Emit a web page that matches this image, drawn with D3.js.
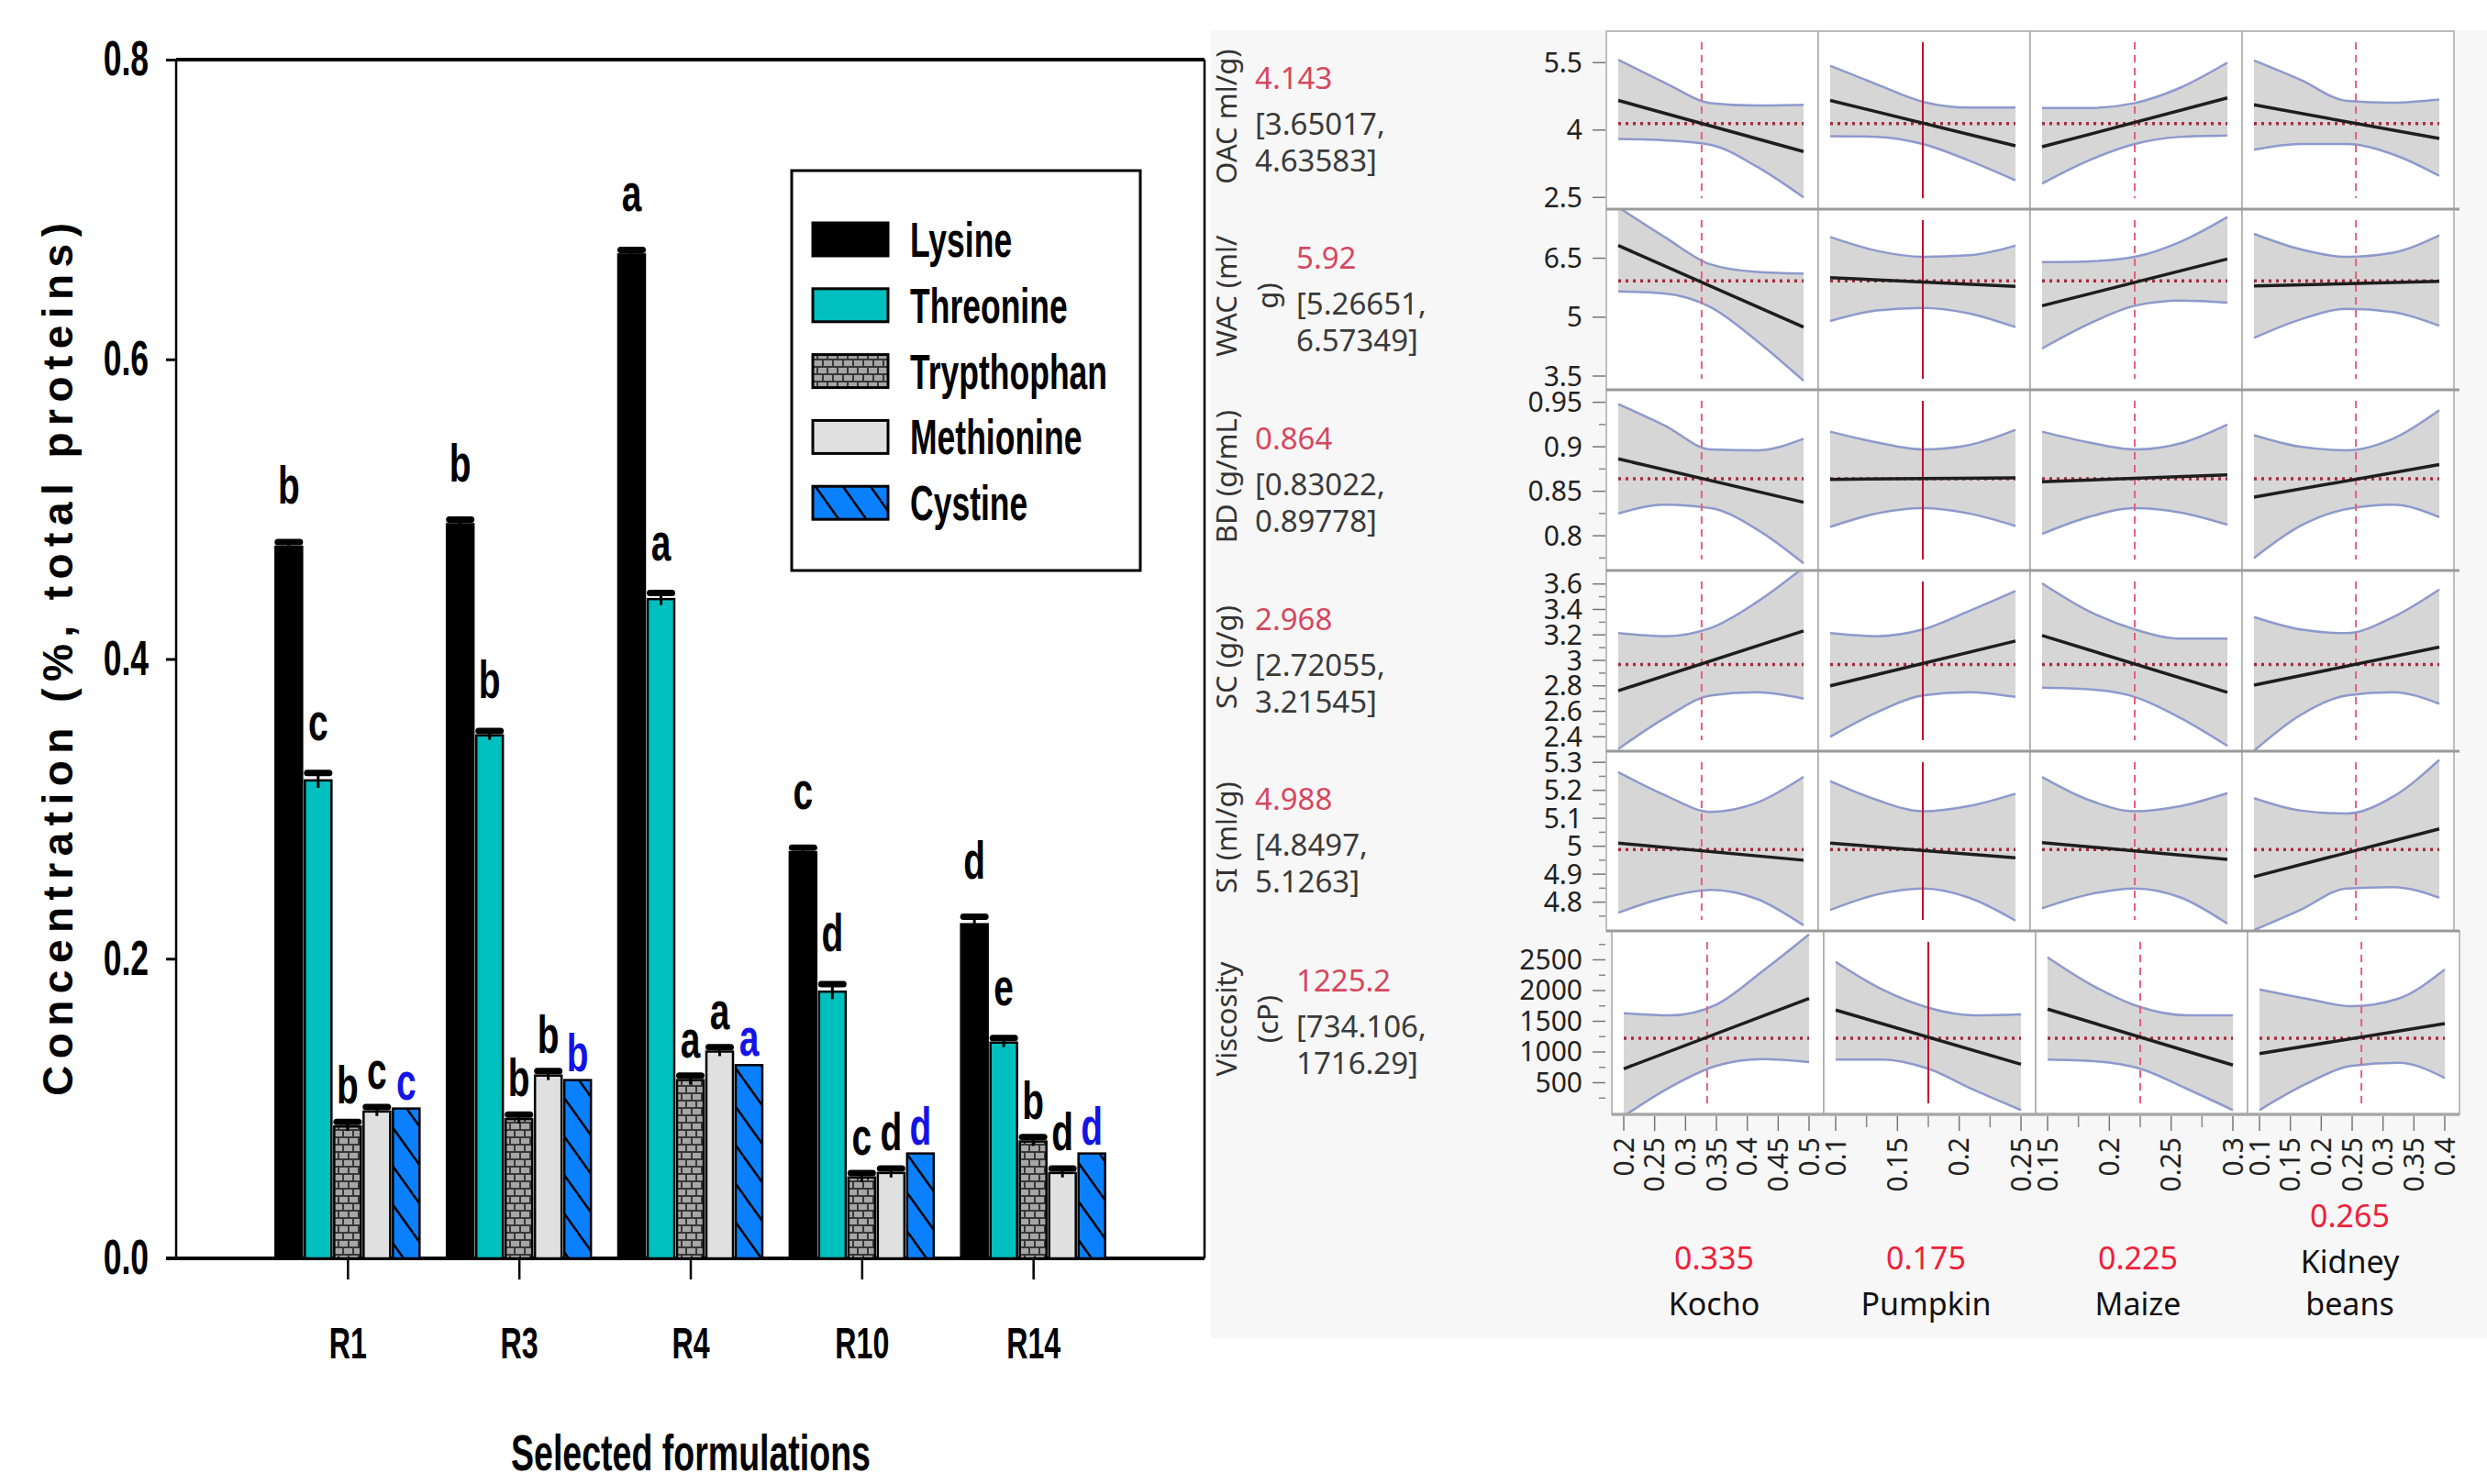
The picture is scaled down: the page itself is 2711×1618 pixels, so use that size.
<!DOCTYPE html>
<html>
<head>
<meta charset="utf-8">
<script src="https://cdn.jsdelivr.net/npm/d3@7"></script>
<style>
  body { margin: 0; background: #fff; }
</style>
</head>
<body>
<svg id="chart" width="2711" height="1618"></svg>
<script>
// ---------- left chart: amino acids of selected formulations ----------
var formulations = ["R1", "R3", "R4", "R10", "R14"];
var aminoAcids = ["Lysine", "Threonine", "Trypthophan", "Methionine", "Cystine"];
var lysine      = [0.475, 0.490, 0.670, 0.271, 0.223];
var threonine   = [0.319, 0.349, 0.440, 0.178, 0.144];
var trypthophan = [0.088, 0.093, 0.119, 0.054, 0.078];
var methionine  = [0.098, 0.122, 0.138, 0.057, 0.057];
var cystine     = [0.100, 0.119, 0.129, 0.070, 0.070];
var lysineErr      = [0.003, 0.003, 0.003, 0.003, 0.005];
var threonineErr   = [0.005, 0.003, 0.004, 0.005, 0.003];
var trypthophanErr = [0.003, 0.003, 0.003, 0.003, 0.003];
var methionineErr  = [0.003, 0.003, 0.003, 0.003, 0.003];
var lysineLetters      = ["b", "b", "a", "c", "d"];
var threonineLetters   = ["c", "b", "a", "d", "e"];
var trypthophanLetters = ["b", "b", "a", "c", "b"];
var methionineLetters  = ["c", "b", "a", "d", "d"];
var cystineLetters     = ["c", "b", "a", "d", "d"];
var yTicks = [0, 0.2, 0.4, 0.6, 0.8];

// ---------- right panel: prediction profiler ----------
var factors = ["Kocho", "Pumpkin", "Maize", "Kidney beans"];
var factorLo = [0.2, 0.1, 0.15, 0.1];
var factorHi = [0.5, 0.25, 0.3, 0.4];
var factorNow = [0.335, 0.175, 0.225, 0.265];
var factorMajor = [[0.2, 0.25, 0.3, 0.35, 0.4, 0.45, 0.5], [0.1, 0.15, 0.2, 0.25],
                   [0.15, 0.2, 0.25, 0.3], [0.1, 0.15, 0.2, 0.25, 0.3, 0.35, 0.4]];
var factorMinor = [[], [0.125, 0.175, 0.225], [0.175, 0.225, 0.275], []];

var responses = [["OAC ml/g)"], ["WAC (ml/", "g)"], ["BD (g/mL)"], ["SC (g/g)"], ["SI (ml/g)"], ["Viscosity", "(cP)"]];
var predicted = [4.143, 5.92, 0.864, 2.968, 4.988, 1225.2];
var ciLow  = ["3.65017", "5.26651", "0.83022", "2.72055", "4.8497", "734.106"];
var ciHigh = ["4.63583", "6.57349", "0.89778", "3.21545", "5.1263", "1716.29"];
var respLo = [2.24, 3.15, 0.761, 2.287, 4.697, -15];
var respHi = [6.2, 7.75, 0.964, 3.706, 5.34, 2970];
var respMajor = [[2.5, 4, 5.5], [3.5, 5, 6.5], [0.8, 0.85, 0.9, 0.95], [2.4, 2.6, 2.8, 3, 3.2, 3.4, 3.6],
                 [4.8, 4.9, 5, 5.1, 5.2, 5.3], [500, 1000, 1500, 2000, 2500]];
var respMinor = [[], [], [0.775, 0.825, 0.875, 0.925], [2.5, 2.7, 2.9, 3.1, 3.3, 3.5],
                 [4.75, 4.85, 4.95, 5.05, 5.15, 5.25], [250, 750, 1250, 1750, 2250, 2750]];

// profile trace at the low and high end of each factor [row][factor]
var traceEnds = [
  [[4.66, 3.52], [4.66, 3.647], [3.627, 4.714], [4.56, 3.81]],
  [[6.823, 4.745], [6.005, 5.78], [5.29, 6.48], [5.795, 5.91]],
  [[0.8864, 0.8376], [0.8634, 0.865], [0.8606, 0.8685], [0.8434, 0.880]],
  [[2.7615, 3.2315], [2.80, 3.152], [3.195, 2.749], [2.805, 3.104]],
  [[5.011, 4.95], [5.011, 4.959], [5.013, 4.953], [4.891, 5.062]],
  [[727, 1870], [1682, 801], [1697, 787], [975, 1463]]
];
// confidence band read at 0, 1/4, 1/2, 3/4 and the end of each factor range
var bandAt = [0, 0.25, 0.5, 0.75, 1];
var bandUpper = [
  [[5.565, 5.055, 4.60, 4.545, 4.56], [5.43, 5.02, 4.63, 4.50, 4.50], [4.49, 4.49, 4.60, 4.95, 5.50], [5.55, 5.12, 4.65, 4.61, 4.68]],
  [[7.80, 7.04, 6.34, 6.15, 6.11], [7.04, 6.69, 6.535, 6.575, 6.82], [6.40, 6.42, 6.535, 6.925, 7.55], [7.12, 6.73, 6.535, 6.64, 7.08]],
  [[0.948, 0.924, 0.897, 0.896, 0.909], [0.917, 0.905, 0.897, 0.902, 0.919], [0.917, 0.905, 0.897, 0.904, 0.925], [0.913, 0.900, 0.896, 0.909, 0.941]],
  [[3.214, 3.19, 3.255, 3.46, 3.73], [3.214, 3.19, 3.243, 3.388, 3.545], [3.605, 3.388, 3.243, 3.171, 3.171], [3.34, 3.243, 3.214, 3.34, 3.557]],
  [[5.265, 5.183, 5.123, 5.156, 5.248], [5.233, 5.166, 5.125, 5.144, 5.188], [5.248, 5.166, 5.125, 5.144, 5.19], [5.172, 5.128, 5.117, 5.177, 5.309]],
  [[1631, 1597, 1772, 2318, 2915], [2467, 2019, 1721, 1597, 1612], [2542, 2070, 1731, 1597, 1597], [2019, 1870, 1746, 1870, 2343]]
];
var bandLower = [
  [[3.80, 3.77, 3.67, 3.18, 2.50], [3.865, 3.85, 3.69, 3.32, 2.88], [2.81, 3.32, 3.69, 3.85, 3.88], [3.56, 3.69, 3.69, 3.46, 2.98]],
  [[5.655, 5.60, 5.25, 4.39, 3.38], [4.90, 5.17, 5.235, 5.095, 4.745], [4.20, 4.82, 5.29, 5.42, 5.37], [4.47, 4.94, 5.21, 5.13, 4.78]],
  [[0.825, 0.835, 0.831, 0.807, 0.769], [0.810, 0.825, 0.831, 0.825, 0.811], [0.802, 0.821, 0.831, 0.826, 0.8125], [0.775, 0.811, 0.830, 0.835, 0.821]],
  [[2.303, 2.545, 2.725, 2.75, 2.70], [2.40, 2.59, 2.725, 2.75, 2.713], [2.785, 2.773, 2.713, 2.545, 2.328], [2.29, 2.57, 2.725, 2.75, 2.66]],
  [[4.762, 4.816, 4.844, 4.811, 4.717], [4.772, 4.827, 4.849, 4.816, 4.734], [4.778, 4.827, 4.849, 4.816, 4.723], [4.70, 4.772, 4.849, 4.854, 4.816]],
  [[-45, 428, 776, 885, 836], [876, 876, 727, 378, 55], [876, 851, 727, 403, 55], [55, 478, 776, 825, 578]]
];

var svg = d3.select("#chart");
svg.append("rect").attr("width", 2711).attr("height", 1618).attr("fill", "#fff");
var defs = svg.append("defs");

// brick fill for trypthophan
var brick = defs.append("pattern").attr("id", "brick").attr("patternUnits", "userSpaceOnUse")
  .attr("width", 22).attr("height", 16);
brick.append("rect").attr("width", 22).attr("height", 16).attr("fill", "#383838");
[[1, 1], [12, 1], [-4, 9], [7, 9], [18, 9]].forEach(function (p) {
  brick.append("rect").attr("x", p[0]).attr("y", p[1]).attr("width", 9).attr("height", 6).attr("fill", "#a6a6a6");
});
// hatched fill for cystine
var hatch = defs.append("pattern").attr("id", "hatch").attr("patternUnits", "userSpaceOnUse")
  .attr("width", 30).attr("height", 42);
hatch.append("rect").attr("width", 30).attr("height", 42).attr("fill", "#0a80ff");
hatch.append("path").attr("d", "M-30,0L0,42M0,0L30,42M30,0L60,42")
  .attr("stroke", "#000").attr("stroke-width", 2.5);

var fills = ["#000", "#00bfbf", "url(#brick)", "#e0e0e0", "url(#hatch)"];
var K = 0.67;   // the figure's bold text is horizontally squeezed
var boldFont = "'Liberation Sans', Arial, sans-serif";

function squeeze(sel, k) {
  sel.each(function () {
    var t = d3.select(this), x = +t.attr("x") || 0;
    t.attr("x", x / k).attr("transform", "scale(" + k + ",1)");
  });
}

var xL = d3.scaleLinear().domain([0, formulations.length + 1]).range([192, 1313]);
var yL = d3.scaleLinear().domain([0, 0.8]).range([1372, 65]);

var left = svg.append("g");

// axes
left.append("g").attr("transform", "translate(192,0)")
  .call(d3.axisLeft(yL).tickValues(yTicks).tickFormat(d3.format(".1f")).tickSize(11).tickPadding(19))
  .call(function (g) { g.select(".domain").remove(); })
  .call(function (g) { g.selectAll("line").attr("stroke", "#000").attr("stroke-width", 3); })
  .call(function (g) {
    g.selectAll("text").attr("font-family", boldFont).attr("font-weight", "bold")
      .attr("font-size", 53).attr("fill", "#000").call(squeeze, K);
  });

left.append("g").attr("transform", "translate(0,1372)")
  .call(d3.axisBottom(xL).tickValues(d3.range(1, formulations.length + 1))
    .tickFormat(function (i) { return formulations[i - 1]; }).tickSize(23).tickPadding(52))
  .call(function (g) { g.select(".domain").remove(); })
  .call(function (g) { g.selectAll("line").attr("stroke", "#000").attr("stroke-width", 2.5); })
  .call(function (g) {
    g.selectAll("text").attr("font-family", boldFont).attr("font-weight", "bold")
      .attr("font-size", 48).attr("fill", "#000").call(squeeze, K);
  });

// frame
left.append("line").attr("x1", 192).attr("x2", 1313).attr("y1", 65).attr("y2", 65).attr("stroke", "#000").attr("stroke-width", 4);
left.append("line").attr("x1", 192).attr("x2", 192).attr("y1", 65).attr("y2", 1372).attr("stroke", "#000").attr("stroke-width", 2.5);
left.append("line").attr("x1", 1313).attr("x2", 1313).attr("y1", 65).attr("y2", 1372).attr("stroke", "#000").attr("stroke-width", 2.5);
left.append("line").attr("x1", 181).attr("x2", 1313).attr("y1", 1372).attr("y2", 1372).attr("stroke", "#000").attr("stroke-width", 4);

// bars
var seriesValues = [lysine, threonine, trypthophan, methionine, cystine];
var seriesErr = [lysineErr, threonineErr, trypthophanErr, methionineErr, null];
var seriesLetters = [lysineLetters, threonineLetters, trypthophanLetters, methionineLetters, cystineLetters];
var letterGap = [42, 36, 20, 20, 10];
var barW = 29, pitch = 32;

var barData = [];
formulations.forEach(function (f, i) {
  aminoAcids.forEach(function (a, s) {
    barData.push({ i: i, s: s, v: seriesValues[s][i], e: seriesErr[s] ? seriesErr[s][i] : 0, letter: seriesLetters[s][i] });
  });
});
function barX(d) { return xL(d.i + 1) + (d.s - 2) * pitch; }

left.selectAll("rect.bar").data(barData).enter().append("rect")
  .attr("class", "bar")
  .attr("x", function (d) { return barX(d) - barW / 2; })
  .attr("y", function (d) { return yL(d.v); })
  .attr("width", barW)
  .attr("height", function (d) { return yL(0) - yL(d.v); })
  .attr("fill", function (d) { return fills[d.s]; })
  .attr("stroke", "#000").attr("stroke-width", 2.5);

var errData = barData.filter(function (d) { return d.e > 0; });
left.selectAll("line.stem").data(errData).enter().append("line")
  .attr("x1", barX).attr("x2", barX)
  .attr("y1", function (d) { return yL(d.v - d.e); })
  .attr("y2", function (d) { return yL(d.v + d.e); })
  .attr("stroke", "#000").attr("stroke-width", 3);
left.selectAll("line.cap").data(errData).enter().append("line")
  .attr("x1", function (d) { return barX(d) - 12; })
  .attr("x2", function (d) { return barX(d) + 12; })
  .attr("y1", function (d) { return yL(d.v + d.e); })
  .attr("y2", function (d) { return yL(d.v + d.e); })
  .attr("stroke", "#000").attr("stroke-width", 7).attr("stroke-linecap", "round");

left.selectAll("text.letter").data(barData).enter().append("text")
  .attr("transform", function (d) {
    return "translate(" + barX(d) + "," + (yL(d.v + d.e) - letterGap[d.s]) + ") scale(" + K + ",1)";
  })
  .attr("text-anchor", "middle")
  .attr("font-family", boldFont).attr("font-weight", "bold").attr("font-size", 58)
  .attr("fill", function (d) { return d.s === 4 ? "#1414e6" : "#000"; })
  .text(function (d) { return d.letter; });

// legend
var legend = left.append("g");
legend.append("rect").attr("x", 863).attr("y", 186).attr("width", 380).attr("height", 436)
  .attr("fill", "#fff").attr("stroke", "#000").attr("stroke-width", 3);
aminoAcids.forEach(function (a, s) {
  var cy = 261 + s * 71.8;
  legend.append("rect").attr("x", 886).attr("y", cy - 18).attr("width", 82).attr("height", 36)
    .attr("fill", fills[s]).attr("stroke", "#000").attr("stroke-width", 3);
  legend.append("text").attr("transform", "translate(992," + (cy + 19) + ") scale(" + K + ",1)")
    .attr("font-family", boldFont).attr("font-weight", "bold").attr("font-size", 53).text(a);
});

// titles
left.append("text").attr("transform", "translate(63,719) rotate(-90)")
  .attr("text-anchor", "middle").attr("dominant-baseline", "central")
  .attr("font-family", boldFont).attr("font-weight", "bold").attr("font-size", 46)
  .attr("textLength", 952).attr("lengthAdjust", "spacing")
  .text("Concentration (%, total proteins)");
left.append("text").attr("transform", "translate(753,1603) scale(" + K + ",1)")
  .attr("text-anchor", "middle")
  .attr("font-family", boldFont).attr("font-weight", "bold").attr("font-size", 56)
  .text("Selected formulations");

// ---------- profiler ----------
var prof = svg.append("g").attr("font-family", "'Noto Sans', 'Open Sans', sans-serif");
prof.append("rect").attr("x", 1320).attr("y", 33).attr("width", 1391).attr("height", 1426).attr("fill", "#f7f7f7");

var rowEdges = [34, 228, 425, 622, 819, 1015, 1215];
var gridX0 = 1751, colW = 231;
function cellLeft(r, j) { return gridX0 + j * colW + (r === responses.length - 1 ? 6 : 0); }
function xScale(r, j) {
  var L = cellLeft(r, j);
  return d3.scaleLinear().domain([factorLo[j], factorHi[j]]).range([L + 13, L + colW - 16]);
}
function yScale(r) {
  return d3.scaleLinear().domain([respLo[r], respHi[r]]).range([rowEdges[r + 1], rowEdges[r]]);
}

responses.forEach(function (resp, r) {
  var y = yScale(r), top = rowEdges[r], bot = rowEdges[r + 1];
  factors.forEach(function (f, j) {
    var x = xScale(r, j), L = cellLeft(r, j);
    var id = "clip" + r + "_" + j;
    defs.append("clipPath").attr("id", id).append("rect")
      .attr("x", L).attr("y", top).attr("width", colW).attr("height", bot - top);
    prof.append("rect").attr("x", L).attr("y", top).attr("width", colW).attr("height", bot - top)
      .attr("fill", "#fff").attr("stroke", "#a9a9a9").attr("stroke-width", 1.5);
    var g = prof.append("g").attr("clip-path", "url(#" + id + ")");
    var pts = bandAt.map(function (t, k) {
      return { x: factorLo[j] + t * (factorHi[j] - factorLo[j]), hi: bandUpper[r][j][k], lo: bandLower[r][j][k] };
    });
    g.append("path").datum(pts)
      .attr("d", d3.area().curve(d3.curveMonotoneX)
        .x(function (d) { return x(d.x); }).y0(function (d) { return y(d.lo); }).y1(function (d) { return y(d.hi); }))
      .attr("fill", "#d6d6d6");
    ["hi", "lo"].forEach(function (key) {
      g.append("path").datum(pts)
        .attr("d", d3.line().curve(d3.curveMonotoneX)
          .x(function (d) { return x(d.x); }).y(function (d) { return y(d[key]); }))
        .attr("fill", "none").attr("stroke", "#8e99cc").attr("stroke-width", 2.5);
    });
    // predicted value
    g.append("line").attr("x1", x(factorLo[j])).attr("x2", x(factorHi[j]))
      .attr("y1", y(predicted[r])).attr("y2", y(predicted[r]))
      .attr("stroke", "#f0c4cb").attr("stroke-width", 1.5);
    g.append("line").attr("x1", x(factorLo[j])).attr("x2", x(factorHi[j]))
      .attr("y1", y(predicted[r])).attr("y2", y(predicted[r]))
      .attr("stroke", "#9b3040").attr("stroke-width", 3.5).attr("stroke-dasharray", "3,5");
    // current factor setting
    var active = j === 1;
    g.append("line").attr("x1", x(factorNow[j])).attr("x2", x(factorNow[j]))
      .attr("y1", top + 12).attr("y2", bot - 12)
      .attr("stroke", active ? "#c3102c" : "#e5607a").attr("stroke-width", 2)
      .attr("stroke-dasharray", active ? null : "8,6");
    // profile trace
    g.append("line").attr("x1", x(factorLo[j])).attr("x2", x(factorHi[j]))
      .attr("y1", y(traceEnds[r][j][0])).attr("y2", y(traceEnds[r][j][1]))
      .attr("stroke", "#1e1e1e").attr("stroke-width", 3.5);
  });

  // response axis
  var ax = prof.append("g");
  respMajor[r].forEach(function (v) {
    ax.append("line").attr("x1", 1736).attr("x2", 1750).attr("y1", y(v)).attr("y2", y(v))
      .attr("stroke", "#777").attr("stroke-width", 1.5);
    ax.append("text").attr("x", 1725).attr("y", y(v)).attr("dy", "0.35em").attr("text-anchor", "end")
      .attr("font-size", 30).attr("fill", "#222").text(String(v));
  });
  respMinor[r].forEach(function (v) {
    ax.append("line").attr("x1", 1743).attr("x2", 1750).attr("y1", y(v)).attr("y2", y(v))
      .attr("stroke", "#888").attr("stroke-width", 1.5);
  });

  // response name and prediction
  var cy = (top + bot) / 2;
  resp.forEach(function (line, k) {
    prof.append("text").attr("transform", "translate(" + (1348 + k * 45) + "," + (cy - 4) + ") rotate(-90)")
      .attr("text-anchor", "middle").attr("font-size", 31).attr("fill", "#333").text(line);
  });
  var vx = resp.length > 1 ? 1413 : 1368;
  prof.append("text").attr("x", vx).attr("y", cy - 34).attr("font-size", 33).attr("fill", "#d6475e")
    .text(String(predicted[r]));
  prof.append("text").attr("x", vx).attr("y", cy + 16).attr("font-size", 33).attr("fill", "#3a3a3a")
    .text("[" + ciLow[r] + ",");
  prof.append("text").attr("x", vx).attr("y", cy + 56).attr("font-size", 33).attr("fill", "#3a3a3a")
    .text(ciHigh[r] + "]");
});

// row separators and the factor axis line
rowEdges.slice(1, -1).forEach(function (yy) {
  prof.append("line").attr("x1", gridX0).attr("x2", gridX0 + 4 * colW + 6).attr("y1", yy).attr("y2", yy)
    .attr("stroke", "#9a9a9a").attr("stroke-width", 3);
});
prof.append("line").attr("x1", gridX0 + 6).attr("x2", gridX0 + 4 * colW + 6).attr("y1", 1215).attr("y2", 1215)
  .attr("stroke", "#a8a8a8").attr("stroke-width", 3.5);

// factor axes
var lastRow = responses.length - 1;
factors.forEach(function (f, j) {
  var x = xScale(lastRow, j);
  var fx = prof.append("g");
  factorMajor[j].forEach(function (v) {
    fx.append("line").attr("x1", x(v)).attr("x2", x(v)).attr("y1", 1217).attr("y2", 1233)
      .attr("stroke", "#777").attr("stroke-width", 1.5);
    fx.append("text").attr("transform", "translate(" + x(v) + ",1240) rotate(-90)")
      .attr("text-anchor", "end").attr("dy", "0.35em").attr("font-size", 30).attr("fill", "#222")
      .text(String(v));
  });
  factorMinor[j].forEach(function (v) {
    fx.append("line").attr("x1", x(v)).attr("x2", x(v)).attr("y1", 1217).attr("y2", 1229)
      .attr("stroke", "#888").attr("stroke-width", 1.5);
  });
  var cx = cellLeft(lastRow, j) + colW / 2 - 4;
  var nameLines = f.split(" ");
  var firstBase = 1434 - (nameLines.length - 1) * 46;
  fx.append("text").attr("x", cx).attr("y", firstBase - 50).attr("text-anchor", "middle")
    .attr("font-size", 34).attr("fill", "#f0203a").text(String(factorNow[j]));
  nameLines.forEach(function (line, k) {
    fx.append("text").attr("x", cx).attr("y", firstBase + k * 46).attr("text-anchor", "middle")
      .attr("font-size", 34).attr("fill", "#111").text(line);
  });
});
</script>
</body>
</html>
